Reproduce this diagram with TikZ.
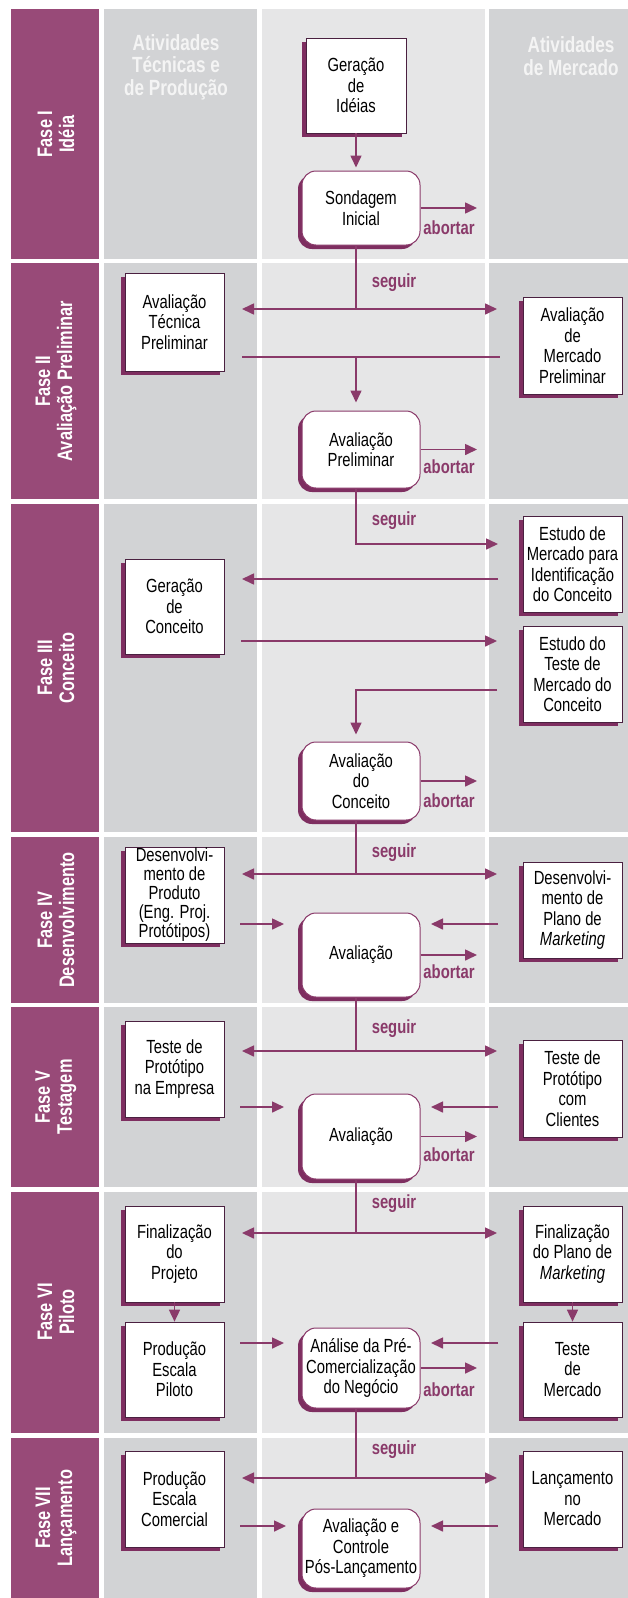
\documentclass[tikz,border=0pt]{standalone}
\usepackage{fontspec}
\setmainfont{Liberation Sans}[FakeStretch=0.78]
\usetikzlibrary{arrows.meta,shadows}
\definecolor{phasec}{HTML}{984A78}
\definecolor{sidec}{HTML}{D2D3D5}
\definecolor{midc}{HTML}{E6E6E7}
\definecolor{arrowc}{HTML}{8A3A6A}
\definecolor{shadowc}{HTML}{7E2E60}
\definecolor{boxline}{HTML}{4A2040}
\definecolor{hdrc}{HTML}{F4F4F4}
\begin{document}
\begin{tikzpicture}[x={(1pt,0pt)},y={(0pt,-1pt)},
  box/.style={draw=boxline, line width=0.7pt, fill=white, align=center, inner sep=0pt,
    font=\fontsize{19}{20.5}\selectfont,
    general shadow={fill=shadowc, shadow xshift=-4pt, shadow yshift=-4pt}},
  rbox/.style={box, rounded corners=14pt, draw=arrowc, line width=1pt},
  ln/.style={draw=arrowc, line width=1.6pt},
  arr/.style={ln, -{Triangle[length=12pt,width=11pt]}},
  darr/.style={ln, {Triangle[length=12pt,width=11pt]}-{Triangle[length=12pt,width=11pt]}},
  lbl/.style={font=\bfseries\fontsize{19}{20}\selectfont, text=arrowc, inner sep=0pt},
  hdr/.style={font=\bfseries\fontsize{22}{22.5}\selectfont, text=hdrc, align=center, inner sep=0pt},
  phase/.style={font=\bfseries\fontsize{21}{22}\selectfont, text=white, align=center, rotate=90, inner sep=0pt}
]
\useasboundingbox (0,0) rectangle (628,1598);
\fill[white] (0,0) rectangle (628,1598);
\foreach \a/\b in {9/259, 263/499, 504/832, 837/1003, 1007/1187, 1192/1433, 1438/1598} {
  \fill[phasec] (11,\a) rectangle (99,\b);
  \fill[sidec] (104,\a) rectangle (257,\b);
  \fill[midc] (262,\a) rectangle (485,\b);
  \fill[sidec] (489,\a) rectangle (628,\b);
}
% headers
\node[hdr] (h1) at (176,67) {Atividades\\Técnicas e\\de Produção};
\node[hdr] (h2) at (571,56) {Atividades\\de Mercado};
% phase labels
\node[phase] (p1) at (56,134) {Fase I\\Idéia};
\node[phase] (p2) at (56,381) {Fase II\\Avaliação Preliminar};
\node[phase] (p3) at (56,668) {Fase III\\Conceito};
\node[phase] (p4) at (56,920) {Fase IV\\Desenvolvimento};
\node[phase] (p5) at (56,1097) {Fase V\\Testagem};
\node[phase] (p6) at (56,1312) {Fase VI\\Piloto};
\node[phase] (p7) at (56,1518) {Fase VII\\Lançamento};

\coordinate (cx) at (356,0);
\coordinate (ab) at (477,0);

% ---------- Fase I
\node[box, minimum width=100pt, minimum height=95pt] (gen) at (356,85.5) {Geração\\de\\Idéias};
\node[rbox, minimum width=118pt, minimum height=74pt] (sond) at (361,208) {Sondagem\\Inicial};
\draw[arr, shorten >=3pt] (gen.south) -- (gen.south |- sond.north);
\draw[arr] (sond.east) -- (sond.east -| ab);
\node[lbl] (a1) at (449,228) {abortar};

% ---------- Fase II
\node[box, minimum width=99pt, minimum height=98pt] (avTec) at (174.5,322) {Avaliação\\Técnica\\Preliminar};
\node[box, minimum width=99pt, minimum height=97pt] (avMerc) at (572.5,345.5) {Avaliação\\de\\Mercado\\Preliminar};
\node[rbox, minimum width=118pt, minimum height=77pt] (avPre) at (361,449.5) {Avaliação\\Preliminar};
\coordinate (s2) at (356,309);
\coordinate (l2) at (242,309);
\coordinate (r2) at (497,309);
\draw[ln] (sond.south -| cx) -- (s2);
\draw[darr] (l2) -- (r2);
\node[lbl] (sg2) at (394,283) {seguir};
\coordinate (m2l) at (242,357);
\coordinate (m2r) at (500,357);
\draw[ln] (m2l) -- (m2r);
\draw[arr, shorten >=8pt] (m2l -| cx) -- (avPre.north -| cx);
\draw[arr] (avPre.east) -- (avPre.east -| ab);
\node[lbl] (a2) at (449,467) {abortar};

% ---------- Fase III
\node[box, minimum width=99pt, minimum height=96pt] (estMerc) at (572.5,564) {Estudo de\\Mercado para\\Identificação\\do Conceito};
\node[box, minimum width=99pt, minimum height=95pt] (genConc) at (174.5,606.5) {Geração\\de\\Conceito};
\node[box, minimum width=99pt, minimum height=96pt] (estTeste) at (572.5,674) {Estudo do\\Teste de\\Mercado do\\Conceito};
\node[rbox, minimum width=118pt, minimum height=78pt] (avConc) at (361,781) {Avaliação\\do\\Conceito};
\coordinate (s3) at (498,544);
\draw[arr] (avPre.south -| cx) |- (s3);
\node[lbl] (sg3) at (394,521) {seguir};
\coordinate (e3a) at (498,579);
\coordinate (e3b) at (242,579);
\draw[arr] (e3a) -- (e3b);
\coordinate (g3a) at (241,641);
\coordinate (g3b) at (497,641);
\draw[arr] (g3a) -- (g3b);
\coordinate (t3a) at (497,690);
\draw[arr, shorten >=7pt] (t3a) -| (avConc.north -| cx);
\draw[arr] (avConc.east) -- (avConc.east -| ab);
\node[lbl] (a3) at (449,801) {abortar};

% ---------- Fase IV
\node[box, minimum width=99pt, minimum height=96pt, font=\fontsize{19}{19}\selectfont] (desProd) at (174.5,895) {Desenvolvi-\\mento de\\Produto\\(Eng. Proj.\\Protótipos)};
\node[box, minimum width=99pt, minimum height=96pt] (desMark) at (572.5,910) {Desenvolvi-\\mento de\\Plano de\\\textit{Marketing}};
\node[rbox, minimum width=118pt, minimum height=84pt] (aval4) at (361,955) {Avaliação};
\coordinate (s4) at (356,874);
\coordinate (l4) at (242,874);
\coordinate (r4) at (497,874);
\draw[ln] (avConc.south -| cx) -- (s4);
\draw[darr] (l4) -- (r4);
\node[lbl] (sg4) at (394,853) {seguir};
\coordinate (i4a) at (240,924);
\coordinate (i4b) at (284,924);
\coordinate (j4a) at (498,924);
\coordinate (j4b) at (431,924);
\draw[arr] (i4a) -- (i4b);
\draw[arr] (j4a) -- (j4b);
\draw[arr] (aval4.east) -- (aval4.east -| ab);
\node[lbl] (a4) at (449,972) {abortar};

% ---------- Fase V
\node[box, minimum width=99pt, minimum height=96pt] (testeEmp) at (174.5,1069) {Teste de\\Protótipo\\na Empresa};
\node[box, minimum width=99pt, minimum height=97pt] (testeCli) at (572.5,1088.5) {Teste de\\Protótipo\\com\\Clientes};
\node[rbox, minimum width=118pt, minimum height=85pt] (aval5) at (361,1136.5) {Avaliação};
\coordinate (s5) at (356,1051);
\coordinate (l5) at (242,1051);
\coordinate (r5) at (497,1051);
\draw[ln] (aval4.south -| cx) -- (s5);
\draw[darr] (l5) -- (r5);
\node[lbl] (sg5) at (394,1029) {seguir};
\coordinate (i5a) at (240,1107);
\coordinate (i5b) at (284,1107);
\coordinate (j5a) at (498,1107);
\coordinate (j5b) at (431,1107);
\draw[arr] (i5a) -- (i5b);
\draw[arr] (j5a) -- (j5b);
\draw[arr] (aval5.east) -- (aval5.east -| ab);
\node[lbl] (a5) at (449,1155) {abortar};

% ---------- Fase VI
\node[box, minimum width=99pt, minimum height=96pt] (finProj) at (174.5,1254) {Finalização\\do\\Projeto};
\node[box, minimum width=99pt, minimum height=96pt] (finMark) at (572.5,1254) {Finalização\\do Plano de\\\textit{Marketing}};
\node[box, minimum width=99pt, minimum height=95pt] (prodPil) at (174.5,1369.5) {Produção\\Escala\\Piloto};
\node[box, minimum width=99pt, minimum height=95pt] (testeMerc) at (572.5,1369.5) {Teste\\de\\Mercado};
\node[rbox, minimum width=118pt, minimum height=80pt] (anPre) at (361,1368) {Análise da Pré-\\Comercialização\\do Negócio};
\coordinate (s6) at (356,1233);
\coordinate (l6) at (242,1233);
\coordinate (r6) at (497,1233);
\draw[ln] (aval5.south -| cx) -- (s6);
\draw[darr] (l6) -- (r6);
\node[lbl] (sg6) at (394,1204) {seguir};
\draw[arr] (finProj.south) -- (prodPil.north);
\draw[arr] (finMark.south) -- (testeMerc.north);
\coordinate (i6a) at (240,1343);
\coordinate (i6b) at (284,1343);
\coordinate (j6a) at (498,1343);
\coordinate (j6b) at (431,1343);
\draw[arr] (i6a) -- (i6b);
\draw[arr] (j6a) -- (j6b);
\draw[arr] (anPre.east) -- (anPre.east -| ab);
\node[lbl] (a6) at (449,1390) {abortar};

% ---------- Fase VII
\node[box, minimum width=99pt, minimum height=96pt] (prodCom) at (174.5,1499) {Produção\\Escala\\Comercial};
\node[box, minimum width=99pt, minimum height=96pt] (lancMerc) at (572.5,1499) {Lançamento\\no\\Mercado};
\node[rbox, minimum width=118pt, minimum height=79pt] (avCtrl) at (361,1548.5) {Avaliação e\\Controle\\Pós-Lançamento};
\coordinate (s7) at (356,1478);
\coordinate (l7) at (242,1478);
\coordinate (r7) at (497,1478);
\draw[ln] (anPre.south -| cx) -- (s7);
\draw[darr] (l7) -- (r7);
\node[lbl] (sg7) at (394,1450) {seguir};
\coordinate (i7a) at (240,1526);
\coordinate (i7b) at (286,1526);
\coordinate (j7a) at (498,1526);
\coordinate (j7b) at (431,1526);
\draw[arr] (i7a) -- (i7b);
\draw[arr] (j7a) -- (j7b);
\end{tikzpicture}
\end{document}
